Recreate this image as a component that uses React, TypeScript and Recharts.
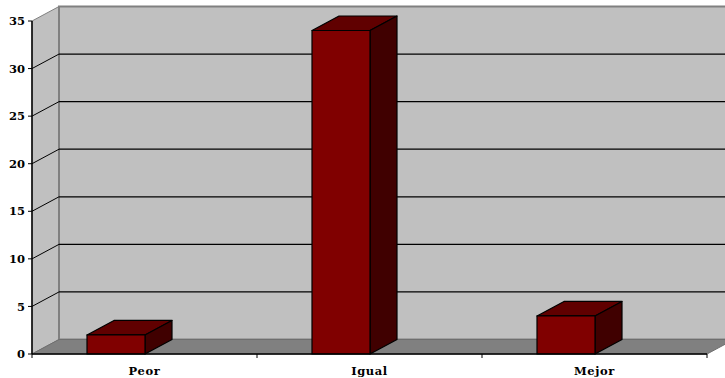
import { BarChart, Bar, XAxis, YAxis, CartesianGrid } from 'recharts'

const categories = ['Peor', 'Igual', 'Mejor']
const seriesValues = [2, 34, 4]
const emptySeries = [null, null, null]
const yTicks = [0, 5, 10, 15, 20, 25, 30, 35]

const data = categories.map((name, i) => ({ name, value: seriesValues[i], empty: emptySeries[i] }))

// projection of the pseudo-3D depth
const DX = 27
const DY = -14.5
const BAND = 225
const TOP = 21
const BOTTOM = 354
const FONT = '"DejaVu Serif", serif'

function Bar3D({ x, y, width, height }: any) {
  if (!height) return null
  const r = x + width
  const b = y + height
  return (
    <g stroke="#000" strokeWidth={1.2} strokeLinejoin="round">
      <polygon points={`${x},${y} ${x + DX},${y + DY} ${r + DX},${y + DY} ${r},${y}`} fill="#600000" />
      <polygon points={`${r},${y} ${r + DX},${y + DY} ${r + DX},${b + DY} ${r},${b}`} fill="#400000" />
      <rect x={x} y={y} width={width} height={height} fill="#800000" />
    </g>
  )
}

function Walls({ x, r }: { x: number; r: number }) {
  return (
    <g>
      <polygon points={`${x},${TOP} ${x + DX},${TOP + DY} ${x + DX},${BOTTOM + DY} ${x},${BOTTOM}`} fill="#c0c0c0" stroke="#808080" />
      <rect x={x + DX} y={TOP + DY} width={r - x} height={BOTTOM - TOP} fill="#c0c0c0" stroke="#808080" strokeWidth={2} />
      <polygon points={`${x},${BOTTOM} ${x + DX},${BOTTOM + DY} ${r + DX},${BOTTOM + DY} ${r},${BOTTOM}`} fill="#808080" stroke="#6e6e6e" />
    </g>
  )
}

// the walls go in with the first line; every other line runs up the side wall and along the back
function GridLine3D({ x1, x2, y1, index }: any) {
  if (index === 0) return <Walls key="walls" x={x1} r={x2} />
  if (y1 <= TOP + 1) return <g key={index} />
  return (
    <g key={index}>
      <line x1={x1} y1={y1} x2={x1 + DX} y2={y1 + DY} stroke="#000" />
      <line x1={x1 + DX} y1={y1 + DY} x2={x2 + DX} y2={y1 + DY} stroke="#000" strokeWidth={1.2} />
    </g>
  )
}

function CategoryTick({ x, payload, index }: any) {
  const left = x - BAND / 2
  return (
    <g>
      <line x1={left} y1={BOTTOM} x2={left} y2={BOTTOM + 4} stroke="#000" />
      {index === categories.length - 1 && <line x1={left + BAND} y1={BOTTOM} x2={left + BAND} y2={BOTTOM + 4} stroke="#000" />}
      <text x={x} y={375} textAnchor="middle" fontFamily={FONT} fontSize={11.5} letterSpacing={0.6} fontWeight="bold" fill="#000">
        {payload.value}
      </text>
    </g>
  )
}

export default function App() {
  return (
    <div style={{ position: 'absolute', left: 0, top: 0, background: '#fff' }}>
      <BarChart
        width={725}
        height={378}
        data={data}
        margin={{ top: TOP, right: 18, bottom: 0, left: 0 }}
        barGap={0}
        barCategoryGap={55}
      >
        <CartesianGrid vertical={false} horizontal={GridLine3D as any} syncWithTicks />
        <XAxis
          dataKey="name"
          height={24}
          tick={CategoryTick as any}
          tickLine={false}
          axisLine={{ stroke: '#000', strokeWidth: 1.5 }}
          interval={0}
        />
        <YAxis
          width={32}
          domain={[0, 35]}
          ticks={yTicks}
          interval={0}
          tickSize={4}
          tickMargin={3}
          tick={{ fontFamily: FONT, fontSize: 11.5, fontWeight: 'bold', fill: '#000' }}
          tickLine={{ stroke: '#000' }}
          axisLine={{ stroke: '#000', strokeWidth: 1.5 }}
        />
        <Bar dataKey="value" shape={<Bar3D />} isAnimationActive={false} />
        <Bar dataKey="empty" isAnimationActive={false} />
      </BarChart>
    </div>
  )
}
